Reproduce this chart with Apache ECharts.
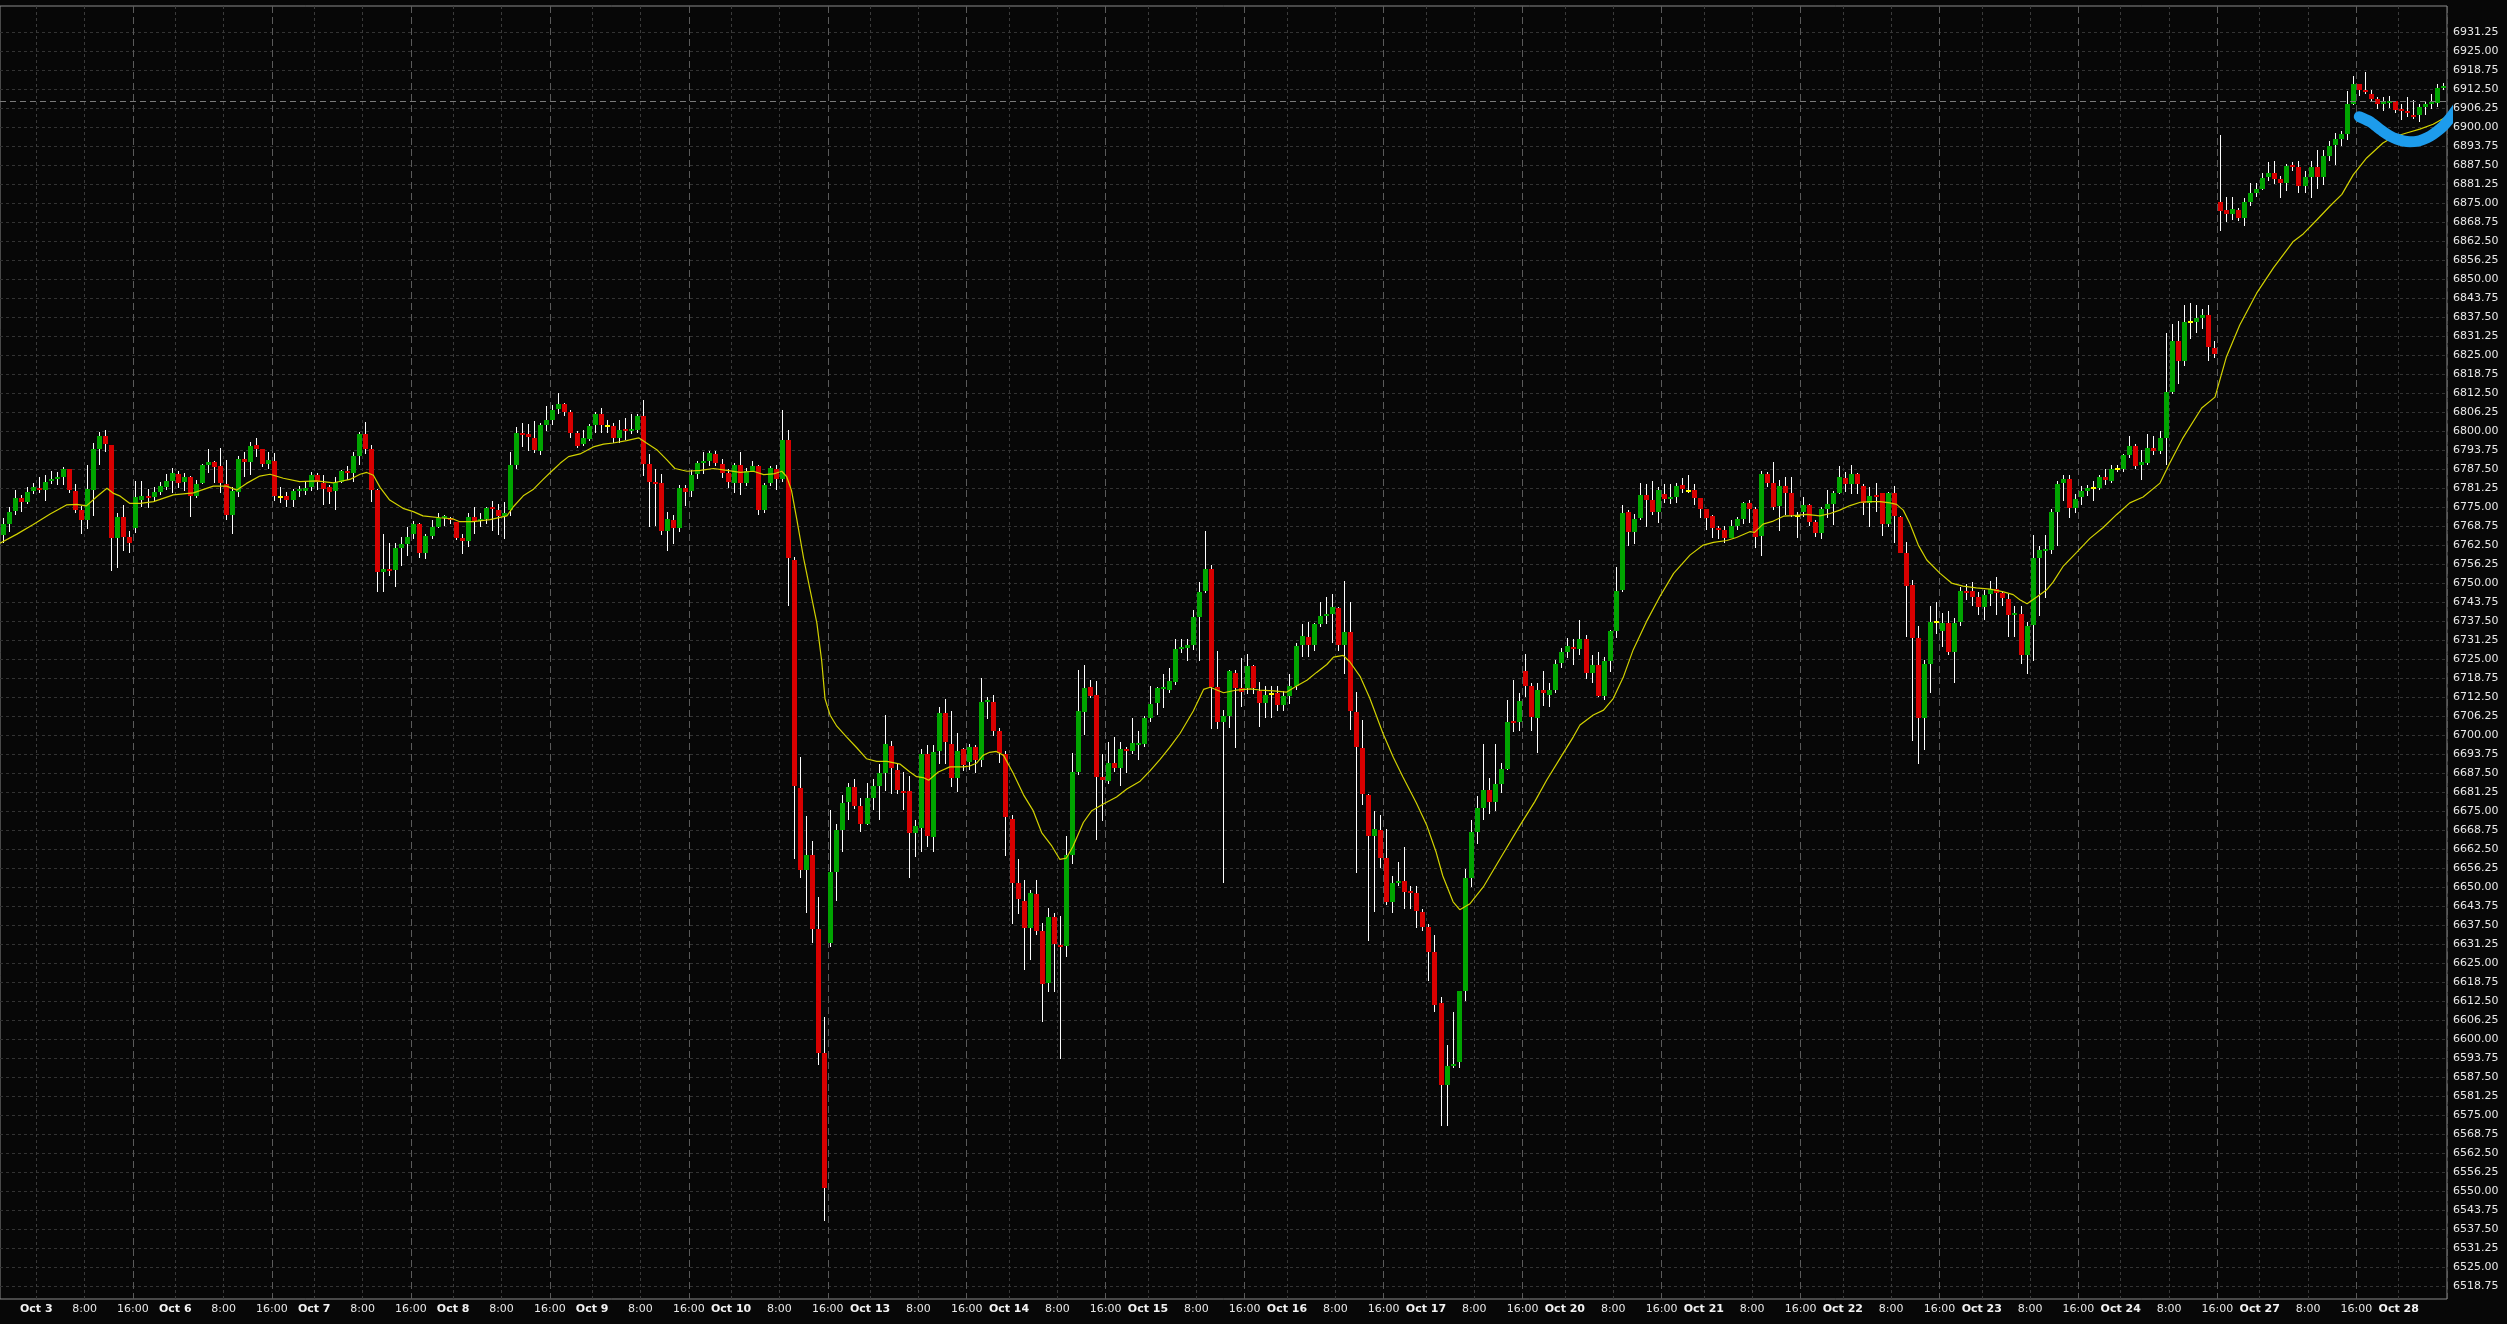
<!DOCTYPE html>
<html><head><meta charset="utf-8">
<script src="https://cdn.jsdelivr.net/npm/echarts@6/dist/echarts.min.js"></script>
<style>html,body{margin:0;padding:0;background:#070707;overflow:hidden}#c{width:2507px;height:1324px}</style>
</head><body><div id="c"></div>
<script>
// Trading sessions (hourly bars, CT; session opens 17:00 previous day, closes 16:00)
const sessionDates = ['Oct 3','Oct 6','Oct 7','Oct 8','Oct 9','Oct 10','Oct 13','Oct 14','Oct 15','Oct 16','Oct 17','Oct 20','Oct 21','Oct 22','Oct 23','Oct 24','Oct 27','Oct 28'];

// Hourly candles: [open, close, low, high]
const candles = [
[6765.8,6769.6,6763.2,6771.5],[6769.4,6773.4,6766.9,6775.0],[6773.6,6778.0,6772.5,6780.5],[6778.0,6776.8,6773.5,6779.0],[6776.7,6780.0,6776.0,6781.7],
[6780.3,6781.5,6779.2,6782.8],[6781.4,6780.7,6779.5,6785.0],[6780.6,6783.2,6777.1,6785.5],[6783.6,6784.2,6782.5,6787.0],[6784.2,6784.9,6782.2,6786.7],
[6784.9,6787.5,6782.2,6788.1],[6787.5,6780.6,6779.5,6787.7],[6780.3,6774.0,6773.0,6782.7],[6774.2,6770.7,6766.1,6775.5],[6770.7,6781.0,6767.8,6788.8],
[6780.6,6794.1,6772.1,6796.0],[6794.1,6798.4,6788.8,6799.6],[6798.4,6795.9,6793.2,6800.4],[6795.4,6764.9,6754.1,6795.5],[6764.9,6771.8,6755.1,6773.0],
[6771.8,6765.3,6760.7,6775.7],[6765.3,6763.2,6760.0,6767.1],
[6768.2,6778.4,6766.6,6783.7],[6777.2,6778.6,6774.9,6783.7],[6778.6,6778.1,6774.8,6781.0],[6778.2,6780.0,6776.8,6781.7],[6780.0,6782.0,6779.0,6783.3],
[6781.7,6783.6,6780.6,6785.9],[6783.7,6786.1,6779.5,6787.8],[6785.9,6782.8,6781.2,6787.0],[6783.2,6785.0,6780.4,6786.1],[6784.8,6778.8,6771.8,6785.3],
[6778.8,6782.6,6777.9,6783.9],[6783.0,6788.8,6782.6,6789.2],[6788.8,6789.9,6786.1,6794.1],[6789.9,6788.3,6782.8,6790.2],[6788.5,6782.8,6779.5,6794.3],
[6782.6,6772.4,6770.7,6790.5],[6772.4,6780.3,6766.1,6781.7],[6780.1,6790.8,6778.4,6791.9],[6790.8,6789.9,6785.0,6793.2],[6789.9,6795.2,6785.6,6796.3],
[6795.4,6794.0,6791.6,6797.6],[6794.0,6789.1,6788.1,6794.0],[6789.1,6790.5,6787.7,6793.2],
[6790.2,6778.8,6777.1,6792.7],[6778.4,6778.4,6776.2,6781.5],[6778.8,6777.4,6775.1,6780.0],[6777.4,6780.3,6775.1,6781.0],[6780.3,6780.9,6778.4,6781.9],
[6780.3,6781.4,6779.0,6783.3],[6781.5,6785.7,6780.3,6786.6],[6785.5,6783.4,6780.6,6786.1],[6783.0,6780.9,6775.7,6785.5],[6781.7,6780.1,6776.0,6782.3],
[6780.3,6783.4,6774.0,6785.0],[6783.4,6787.0,6782.8,6787.2],[6786.7,6786.1,6783.9,6788.5],[6786.1,6791.8,6783.4,6793.2],[6791.8,6799.0,6788.8,6799.8],
[6799.0,6794.1,6792.5,6803.1],[6794.1,6780.6,6776.8,6795.4],[6780.6,6753.7,6747.1,6781.0],[6753.7,6754.6,6747.1,6766.3],[6754.6,6754.1,6752.3,6763.1],
[6754.3,6761.4,6748.6,6763.1],[6761.6,6762.8,6755.7,6765.3],[6762.8,6765.0,6759.0,6768.3],
[6766.1,6769.6,6764.4,6770.5],[6769.6,6759.8,6758.3,6769.8],[6759.8,6765.6,6757.9,6766.3],[6765.6,6768.5,6764.4,6770.7],[6768.5,6771.3,6768.0,6772.9],
[6771.5,6772.1,6768.8,6772.4],[6771.4,6770.7,6769.3,6771.8],[6770.0,6764.9,6764.2,6770.2],[6764.7,6763.9,6759.4,6766.1],[6763.9,6771.7,6762.0,6773.0],
[6771.7,6770.5,6766.3,6774.9],[6770.4,6771.1,6768.6,6773.2],[6771.1,6774.6,6769.5,6775.1],[6774.8,6774.4,6767.2,6776.9],[6773.9,6772.0,6765.7,6776.0],
[6772.2,6773.2,6764.6,6776.6],[6773.9,6788.9,6772.2,6793.0],[6788.9,6799.3,6787.7,6801.4],[6799.3,6798.7,6794.8,6802.8],[6798.9,6798.2,6793.6,6802.3],
[6797.6,6793.9,6792.7,6803.2],[6793.5,6801.9,6792.3,6802.8],[6801.9,6803.7,6800.1,6808.2],
[6803.7,6806.9,6801.9,6808.5],[6807.3,6808.9,6805.5,6812.5],[6808.9,6806.4,6805.0,6809.1],[6806.4,6799.4,6797.8,6806.8],[6799.4,6795.0,6794.4,6800.1],
[6795.7,6797.6,6795.0,6800.5],[6797.5,6801.6,6796.6,6802.5],[6801.9,6805.5,6799.3,6806.4],[6805.5,6801.9,6799.3,6807.6],[6801.6,6801.6,6799.3,6803.7],
[6801.6,6797.8,6796.0,6802.8],[6797.8,6800.3,6796.0,6803.7],[6800.5,6800.0,6797.1,6804.3],[6800.2,6800.6,6798.9,6805.5],[6800.5,6805.0,6799.3,6805.5],
[6805.0,6789.1,6785.3,6810.3],[6789.1,6783.2,6768.6,6792.5],[6783.2,6782.5,6768.9,6787.7],[6782.9,6767.1,6765.7,6785.9],[6767.1,6771.1,6760.5,6773.4],
[6770.7,6768.0,6762.7,6772.5],[6768.0,6781.4,6766.8,6782.3],[6781.4,6780.0,6775.2,6782.3],
[6780.2,6785.5,6778.4,6787.1],[6785.9,6789.4,6784.1,6790.3],[6789.6,6790.3,6785.9,6793.0],[6790.3,6792.7,6788.6,6793.5],[6792.5,6789.4,6788.6,6793.5],
[6789.1,6786.2,6784.6,6790.7],[6786.2,6783.2,6781.4,6787.7],[6782.9,6788.7,6779.6,6789.4],[6788.7,6782.9,6779.1,6793.0],[6782.9,6786.8,6781.8,6788.0],
[6786.8,6788.6,6786.4,6790.3],[6788.6,6773.9,6772.5,6788.9],[6773.9,6782.3,6772.9,6782.8],[6782.8,6788.0,6781.8,6788.6],[6787.7,6784.1,6780.5,6788.9],
[6784.1,6797.1,6783.2,6806.8],[6797.1,6758.2,6742.5,6800.5],[6757.7,6683.3,6659.2,6758.5],[6682.4,6655.6,6653.0,6692.6],[6655.6,6660.6,6641.4,6673.5],
[6660.6,6636.0,6631.6,6665.1],[6636.0,6595.5,6591.4,6646.7],[6595.5,6550.9,6540.2,6607.1],
[6631.6,6654.9,6630.2,6675.3],[6654.9,6668.7,6645.5,6670.8],[6668.7,6677.6,6661.4,6680.1],[6677.9,6682.9,6672.1,6684.2],[6682.9,6676.5,6675.8,6685.5],
[6676.5,6670.8,6668.1,6679.4],[6670.8,6679.4,6670.3,6684.2],[6679.4,6683.3,6675.3,6685.5],[6683.3,6687.4,6672.1,6690.4],[6687.4,6697.0,6681.5,6706.5],
[6696.3,6689.0,6680.6,6698.1],[6688.6,6681.9,6680.6,6690.8],[6681.5,6681.0,6675.3,6687.8],[6681.5,6667.8,6653.0,6686.5],[6667.6,6669.9,6659.8,6672.1],
[6669.4,6693.6,6661.5,6695.3],[6693.6,6666.7,6663.3,6696.7],[6666.4,6694.4,6661.5,6696.7],[6694.9,6707.4,6690.4,6709.2],[6707.4,6697.6,6690.4,6711.9],
[6697.0,6686.0,6682.8,6707.9],[6686.0,6694.9,6681.2,6700.8],[6695.3,6690.1,6688.3,6695.8],
[6691.0,6696.2,6688.5,6697.2],[6696.2,6691.7,6687.5,6696.8],[6691.7,6710.9,6689.4,6718.7],[6710.9,6711.4,6705.4,6712.4],[6710.9,6701.4,6699.8,6713.1],
[6701.4,6694.0,6690.7,6702.4],[6693.6,6672.9,6660.1,6694.6],[6672.2,6651.4,6637.7,6673.8],[6651.4,6646.1,6641.2,6659.2],[6645.5,6636.4,6622.8,6652.3],
[6636.4,6648.1,6626.0,6649.1],[6647.7,6635.6,6634.1,6652.3],[6635.4,6618.2,6605.5,6638.0],[6618.5,6640.2,6615.5,6643.2],[6640.2,6631.2,6615.5,6641.3],
[6630.8,6630.4,6593.5,6640.6],[6630.6,6660.4,6626.9,6666.6],[6660.4,6687.8,6657.5,6694.2],[6687.8,6707.9,6686.8,6721.3],[6707.6,6715.4,6700.1,6723.0],
[6715.8,6712.8,6712.2,6718.0],[6713.1,6686.1,6665.6,6717.8],[6686.1,6685.1,6671.8,6693.9],
[6684.8,6690.7,6683.8,6697.8],[6690.7,6689.1,6687.7,6699.2],[6689.1,6695.3,6683.3,6697.8],[6695.5,6694.9,6687.5,6695.9],[6694.9,6697.5,6693.9,6705.7],
[6696.7,6697.2,6691.7,6701.4],[6697.0,6705.7,6696.2,6706.3],[6705.7,6710.2,6704.4,6716.1],[6710.5,6715.4,6706.6,6715.8],[6715.1,6715.6,6708.9,6720.0],
[6714.8,6717.8,6713.7,6721.9],[6717.4,6728.4,6716.3,6731.7],[6728.4,6729.1,6727.1,6731.7],[6728.7,6729.5,6724.2,6731.7],[6729.5,6738.9,6728.1,6741.1],
[6738.9,6747.0,6724.2,6750.2],[6747.3,6754.5,6746.7,6767.1],[6754.5,6715.8,6702.0,6755.8],[6715.8,6704.4,6702.0,6727.8],[6704.4,6706.3,6651.4,6708.3],
[6706.3,6720.9,6702.4,6721.5],[6720.4,6715.4,6695.6,6721.3],[6715.4,6714.1,6709.3,6725.2],
[6715.4,6722.6,6713.5,6726.5],[6722.6,6715.4,6713.5,6723.2],[6714.5,6710.5,6702.7,6717.4],[6710.5,6713.1,6705.7,6716.1],[6713.5,6713.5,6705.7,6716.1],
[6713.9,6710.0,6707.9,6716.1],[6710.0,6712.8,6708.0,6714.5],[6712.8,6716.1,6710.2,6720.0],[6716.1,6729.3,6714.8,6730.4],[6729.5,6732.6,6725.8,6736.5],
[6732.3,6729.7,6725.8,6737.1],[6729.7,6736.5,6727.8,6736.9],[6736.5,6739.1,6735.6,6743.7],[6739.1,6739.8,6736.6,6745.4],[6739.8,6742.1,6730.4,6746.4],
[6741.7,6729.7,6727.8,6742.1],[6729.7,6733.9,6720.0,6750.8],[6733.9,6707.9,6701.8,6743.8],[6707.6,6696.2,6654.5,6714.1],[6695.6,6680.7,6677.0,6705.0],
[6680.3,6666.9,6632.1,6680.5],[6666.9,6669.2,6641.6,6675.1],[6668.8,6659.5,6656.2,6673.8],
[6659.5,6645.2,6644.2,6669.2],[6645.2,6651.3,6641.5,6653.6],[6651.3,6651.7,6650.4,6658.2],[6651.9,6648.4,6642.6,6663.0],[6648.7,6648.0,6642.6,6650.4],
[6648.0,6642.2,6636.4,6650.4],[6641.9,6636.9,6635.4,6642.6],[6636.9,6628.5,6618.9,6637.7],[6628.5,6611.3,6608.7,6634.1],[6611.7,6584.9,6571.2,6613.9],
[6584.9,6591.1,6571.2,6597.9],[6591.1,6591.8,6590.5,6608.7],[6592.4,6615.6,6590.5,6615.9],[6615.9,6652.9,6612.6,6655.8],[6652.9,6668.0,6650.0,6672.0],
[6668.0,6676.0,6664.0,6680.0],[6676.0,6682.0,6672.0,6697.2],[6682.0,6678.0,6674.0,6686.0],[6678.0,6684.0,6675.0,6697.0],[6684.0,6688.8,6681.0,6690.7],
[6688.8,6704.2,6688.4,6711.5],[6704.5,6704.0,6701.1,6718.1],[6704.4,6711.2,6701.3,6713.7],
[6721.0,6716.2,6712.6,6726.6],[6716.1,6706.0,6701.3,6717.0],[6705.7,6714.8,6694.0,6717.0],[6714.8,6713.7,6709.5,6721.0],[6713.2,6714.8,6709.3,6717.0],
[6714.8,6723.3,6713.7,6724.7],[6723.6,6727.4,6721.9,6728.5],[6727.4,6729.3,6725.2,6731.8],[6728.9,6728.3,6723.0,6731.6],[6728.3,6731.5,6726.3,6737.8],
[6731.5,6720.5,6718.3,6732.9],[6720.3,6723.0,6717.2,6726.3],[6723.0,6712.9,6712.4,6727.2],[6712.9,6724.3,6711.5,6725.8],[6724.3,6734.2,6720.8,6734.5],
[6734.2,6747.4,6731.8,6755.2],[6747.7,6772.9,6747.1,6775.7],[6773.3,6766.9,6762.3,6774.0],[6766.9,6771.1,6762.7,6772.7],[6771.3,6779.0,6770.7,6782.8],
[6779.0,6777.3,6768.5,6782.5],[6777.3,6773.5,6772.4,6783.6],[6773.5,6780.6,6769.9,6781.7],
[6779.3,6777.7,6776.2,6782.6],[6777.7,6778.2,6775.9,6782.5],[6778.2,6781.9,6776.2,6782.8],[6782.3,6781.0,6779.5,6784.5],[6780.4,6780.4,6779.5,6785.5],
[6780.6,6778.1,6775.7,6782.5],[6777.9,6774.4,6771.3,6778.1],[6774.3,6771.5,6767.4,6774.3],[6772.1,6768.2,6764.7,6772.4],[6768.2,6767.6,6764.4,6768.8],
[6767.5,6764.9,6763.1,6768.8],[6764.9,6768.8,6764.7,6770.7],[6768.8,6771.0,6767.5,6771.8],[6771.0,6776.4,6769.4,6776.8],[6776.4,6774.3,6769.9,6777.3],
[6774.3,6765.3,6761.4,6775.1],[6765.5,6785.9,6758.9,6787.0],[6785.9,6782.8,6781.7,6786.6],[6782.8,6775.1,6774.0,6789.9],[6775.3,6781.9,6767.2,6783.9],
[6781.9,6779.7,6772.4,6785.0],[6779.7,6772.4,6771.8,6785.0],[6772.1,6772.1,6764.7,6773.5],
[6773.5,6775.7,6771.8,6778.4],[6775.7,6770.2,6768.8,6775.9],[6770.2,6766.6,6765.3,6770.7],[6766.6,6774.3,6764.4,6774.9],[6774.3,6776.0,6771.3,6780.6],
[6776.0,6779.7,6769.1,6780.4],[6779.7,6785.0,6779.3,6788.5],[6784.7,6782.5,6780.1,6786.7],[6782.5,6785.9,6779.3,6788.8],[6785.9,6782.5,6779.3,6786.1],
[6781.9,6776.2,6772.4,6782.5],[6776.2,6778.6,6768.6,6781.7],[6778.9,6778.4,6773.5,6782.8],[6779.5,6769.6,6765.5,6779.7],[6769.6,6779.7,6768.5,6780.1],
[6779.5,6772.2,6763.3,6781.9],[6771.8,6760.0,6759.8,6772.2],[6759.8,6749.1,6732.3,6763.6],[6749.3,6732.0,6698.1,6751.0],[6731.8,6705.7,6690.6,6736.0],
[6705.7,6723.4,6695.0,6724.7],[6723.4,6737.1,6713.7,6742.4],[6737.2,6737.2,6733.4,6743.9],
[6734.2,6736.7,6729.1,6740.0],[6736.7,6727.4,6726.3,6740.8],[6727.4,6736.7,6717.2,6738.4],[6737.1,6747.3,6736.0,6748.6],[6747.3,6746.8,6744.5,6749.7],
[6747.3,6745.5,6742.5,6750.3],[6745.5,6742.1,6739.5,6747.1],[6742.1,6746.2,6738.0,6747.7],[6746.4,6748.1,6742.5,6750.6],[6748.1,6746.8,6739.5,6751.9],
[6746.8,6745.1,6742.3,6747.1],[6744.7,6739.5,6732.4,6746.4],[6739.5,6739.9,6732.1,6742.3],[6739.9,6726.3,6723.4,6742.3],[6726.3,6736.0,6720.0,6737.1],
[6736.3,6758.4,6724.3,6765.9],[6758.4,6760.8,6739.0,6762.3],[6760.5,6761.1,6745.1,6765.9],[6761.0,6773.4,6759.7,6774.4],[6773.4,6782.6,6762.3,6783.5],
[6782.9,6784.2,6777.0,6785.7],[6784.2,6774.7,6771.4,6785.7],[6774.7,6777.7,6773.1,6779.2],
[6778.3,6780.3,6775.7,6781.8],[6780.2,6781.2,6778.6,6782.2],[6781.2,6781.2,6777.0,6783.5],[6781.3,6784.8,6780.5,6785.7],[6784.8,6783.8,6782.2,6787.4],
[6783.5,6787.7,6782.9,6788.7],[6787.7,6787.7,6786.5,6788.7],[6787.7,6792.0,6786.5,6792.6],[6792.0,6795.2,6791.3,6798.5],[6795.2,6788.5,6787.7,6795.9],
[6789.0,6789.8,6783.9,6793.9],[6789.6,6794.6,6788.8,6799.1],[6794.6,6793.3,6792.0,6798.5],[6793.3,6797.8,6792.6,6800.2],[6797.8,6812.8,6788.8,6832.3],
[6812.8,6829.7,6812.2,6835.2],[6829.7,6823.2,6815.4,6836.2],[6823.2,6836.0,6821.3,6841.4],[6836.0,6836.0,6830.4,6842.1],[6836.0,6837.3,6832.3,6841.4],
[6837.1,6838.2,6833.6,6840.1],[6838.2,6827.8,6823.2,6841.4],[6827.5,6825.4,6823.9,6829.5],
[6875.5,6872.4,6865.9,6897.4],[6872.7,6871.4,6868.8,6877.2],[6871.4,6873.1,6869.4,6877.2],[6872.9,6870.1,6869.0,6873.3],[6870.1,6875.3,6867.5,6876.6],
[6875.3,6878.5,6874.2,6881.8],[6878.5,6879.7,6877.2,6881.8],[6879.7,6883.3,6879.2,6885.0],[6883.5,6884.8,6882.4,6888.6],[6884.8,6883.1,6881.4,6888.9],
[6883.1,6881.8,6876.6,6884.1],[6881.8,6887.3,6878.9,6888.0],[6887.5,6887.0,6885.7,6888.6],[6887.0,6880.7,6878.5,6889.0],[6880.7,6883.5,6878.5,6885.7],
[6883.5,6887.0,6876.8,6888.9],[6887.0,6883.5,6879.8,6892.4],[6883.5,6890.5,6881.1,6892.4],[6890.5,6893.9,6888.9,6895.5],[6894.1,6896.1,6887.6,6898.0],
[6896.1,6897.8,6893.8,6898.7],[6897.8,6907.8,6895.8,6912.0],[6907.8,6914.1,6907.2,6916.9],
[6914.1,6912.1,6910.4,6914.3],[6912.1,6911.5,6911.1,6918.2],[6910.8,6909.2,6908.5,6912.4],[6909.2,6907.8,6905.9,6909.8],[6907.6,6908.1,6905.5,6909.8],
[6908.2,6908.7,6906.2,6910.2],[6908.5,6905.6,6904.8,6908.7],[6905.9,6905.2,6902.3,6907.5],[6905.2,6904.6,6903.3,6909.8],[6903.9,6903.5,6902.6,6909.1],
[6903.9,6906.5,6901.6,6907.8],[6906.8,6907.8,6903.9,6908.5],[6907.8,6908.3,6905.9,6911.1],[6908.1,6913.0,6906.8,6914.3],[6913.0,6913.7,6912.4,6914.6]
];

// Moving average: [bar position, value]
const maPoints = [
[-0.5,6763.1],[2.3,6766.1],[5.0,6769.3],[7.8,6772.7],[10.5,6775.7],[12.2,6775.9],[13.8,6775.4],[15.5,6778.4],[17.2,6781.2],[18.3,6779.5],
[19.4,6778.6],[21.0,6776.2],[22.7,6776.2],[24.9,6776.8],[28.2,6779.0],[31.5,6779.7],[34.8,6781.9],[37.0,6781.9],[38.7,6780.6],[40.3,6782.8],
[42.5,6785.2],[44.2,6785.8],[46.4,6784.5],[49.1,6783.4],[51.9,6783.6],[54.7,6783.0],[57.4,6784.1],[59.1,6785.8],[60.2,6786.4],[61.3,6785.5],
[62.4,6781.5],[64.0,6777.3],[66.2,6774.6],[67.9,6773.5],[69.5,6772.1],[72.3,6771.5],[74.5,6771.1],[75.6,6770.2],[77.8,6770.2],[80.6,6770.9],
[83.4,6772.1],[84.5,6775.2],[86.1,6778.7],[87.8,6780.9],[89.4,6784.1],[90.8,6786.8],[92.2,6789.4],[93.6,6791.6],[95.5,6792.5],[97.7,6794.8],
[99.4,6795.7],[101.0,6796.1],[103.2,6796.9],[105.2,6797.8],[106.5,6796.1],[108.2,6793.9],[109.8,6790.7],[111.2,6787.7],[113.2,6786.8],[115.4,6787.1],
[117.6,6787.7],[119.8,6787.1],[122.0,6786.4],[124.2,6786.8],[125.9,6785.7],[127.5,6785.9],[128.9,6786.8],[129.7,6785.0],[130.5,6780.5],[131.4,6770.7],
[132.5,6758.2],[133.6,6747.5],[134.7,6736.8],[135.5,6724.3],[136.05,6711.9],[136.9,6706.5],[138.0,6702.9],[139.6,6699.4],[141.3,6695.8],[142.9,6692.2],
[144.6,6691.3],[146.3,6691.3],[148.5,6690.4],[150.1,6687.8],[151.2,6686.3],[152.3,6686.0],[153.2,6685.1],[154.8,6687.8],[156.7,6689.5],[159.0,6689.5],
[160.0,6689.8],[161.1,6690.7],[162.2,6693.3],[163.3,6694.3],[164.4,6694.6],[165.6,6693.3],[167.2,6687.4],[168.9,6680.3],[170.5,6675.1],[171.9,6667.9],
[173.6,6663.4],[174.9,6659.1],[176.0,6659.5],[177.1,6663.4],[178.8,6671.2],[180.2,6675.1],[182.1,6677.3],[184.3,6679.6],[186.0,6682.2],[188.2,6684.8],
[189.8,6688.1],[191.5,6692.0],[193.1,6695.9],[194.8,6700.5],[197.0,6707.9],[198.7,6715.0],[199.8,6715.7],[202.0,6713.9],[204.2,6714.8],[206.4,6715.2],
[208.0,6714.8],[210.3,6714.5],[212.4,6714.1],[214.1,6716.1],[215.8,6718.0],[217.4,6720.6],[219.1,6723.2],[220.2,6725.6],[221.8,6726.2],[222.9,6724.1],
[224.6,6719.3],[226.2,6712.2],[228.4,6700.5],[230.1,6692.7],[231.7,6686.2],[233.9,6677.7],[235.6,6670.5],[237.2,6661.4],[238.3,6653.6],[240.0,6645.1],
[241.1,6642.5],[242.8,6644.5],[245.0,6650.0],[248.0,6660.0],[251.0,6670.0],[253.5,6678.0],[255.5,6685.2],[257.7,6692.3],[259.9,6699.4],[261.0,6703.3],
[263.2,6706.6],[264.9,6708.2],[266.5,6712.0],[268.2,6719.2],[269.8,6728.0],[272.0,6737.3],[274.2,6745.5],[276.5,6753.2],[279.2,6759.2],[281.4,6762.5],
[283.1,6763.4],[285.3,6764.0],[286.9,6765.0],[289.1,6766.9],[289.9,6766.7],[291.3,6769.4],[293.0,6770.4],[294.7,6772.0],[296.3,6772.2],[298.5,6772.6],
[300.7,6772.1],[302.4,6772.9],[304.0,6774.0],[305.7,6775.5],[307.4,6776.6],[309.0,6776.8],[310.7,6776.8],[312.3,6776.4],[313.4,6775.9],[314.5,6774.0],
[315.6,6769.6],[317.0,6762.5],[318.4,6757.6],[320.6,6753.2],[322.5,6750.0],[324.4,6749.0],[326.6,6748.4],[328.9,6748.0],[331.1,6747.1],[332.7,6746.2],
[333.8,6744.5],[335.0,6743.2],[336.6,6745.4],[338.2,6747.7],[339.3,6750.3],[341.0,6755.6],[343.2,6760.1],[345.4,6764.7],[347.6,6768.3],[349.8,6772.5],
[352.0,6776.4],[354.2,6778.3],[357.0,6782.9],[358.6,6789.4],[360.8,6797.8],[363.9,6807.6],[366.1,6811.2],[368.0,6824.5],[370.2,6834.9],[373.0,6845.4],
[375.8,6853.8],[379.0,6862.3],[380.7,6864.9],[382.9,6869.4],[385.1,6874.0],[387.1,6877.9],[389.0,6884.4],[391.2,6889.9],[393.9,6894.8],[395.6,6896.8],
[397.8,6898.1],[400.0,6899.4],[402.2,6901.0],[403.9,6902.9],[404.5,6903.5]
];

// Hand-drawn blue annotation: [bar position, price]
const arcPoints = [
[389.99,6903.48],[390.93,6902.61],[391.76,6901.84],[392.86,6900.19],[393.96,6898.55],[395.07,6897.12],[396.17,6896.13],[397.27,6895.48],
[398.38,6895.26],[399.48,6895.37],[400.58,6896.03],[401.69,6897.01],[402.79,6898.55],[403.89,6900.41],[404.99,6902.94],[405.93,6905.46],[406.81,6908.42]
];

// Dashed horizontal price line
const priceLine = 6908.6;

// Price-axis tick labels
const yTicks = [6518.75,6525,6531.25,6537.5,6543.75,6550,6556.25,6562.5,6568.75,6575,6581.25,6587.5,6593.75,6600,6606.25,6612.5,6618.75,6625,6631.25,6637.5,6643.75,6650,6656.25,6662.5,6668.75,6675,6681.25,6687.5,6693.75,6700,6706.25,6712.5,6718.75,6725,6731.25,6737.5,6743.75,6750,6756.25,6762.5,6768.75,6775,6781.25,6787.5,6793.75,6800,6806.25,6812.5,6818.75,6825,6831.25,6837.5,6843.75,6850,6856.25,6862.5,6868.75,6875,6881.25,6887.5,6893.75,6900,6906.25,6912.5,6918.75,6925,6931.25];
const yMin = 6514.4, yMax = 6939.9;

// Build hourly categories and time labels
const categories = [], labelText = [], kind = [];
sessionDates.forEach((d, s) => {
  const jStart = s === 0 ? 1 : 0;
  const jEnd = s === sessionDates.length - 1 ? 14 : 22;
  for (let j = jStart; j <= jEnd; j++) {
    const hour = j < 7 ? 17 + j : j - 7;
    categories.push(d + ' ' + hour + ':00');
    if (j === 7) { labelText.push('{d|' + d + '}'); kind.push('day'); }
    else if (j === 15) { labelText.push('{t|8:00}'); kind.push('h8'); }
    else if (j === 0) { labelText.push('{t|16:00}'); kind.push('h16'); }
    else { labelText.push(''); kind.push(''); }
  }
});

const FONT = 'DejaVu Sans';
const chart = echarts.init(document.getElementById('c'), null, { renderer: 'canvas' });

function renderCandle(params, api) {
  const i = api.value(0), o = api.value(1), c = api.value(2), l = api.value(3), h = api.value(4);
  const pO = api.coord([i, o]), pC = api.coord([i, c]);
  const yH = api.coord([i, h])[1], yL = api.coord([i, l])[1];
  const x = Math.round(pO[0] - 0.5);
  let top = Math.round(Math.min(pO[1], pC[1])), bot = Math.round(Math.max(pO[1], pC[1]));
  if (bot - top < 2) { const m = Math.round((pO[1] + pC[1]) / 2); top = m - 1; bot = m + 1; }
  const color = c > o ? '#00a400' : (c < o ? '#d80000' : '#ffff00');
  return {
    type: 'group',
    children: [
      { type: 'line', shape: { x1: x + 0.5, y1: Math.round(yH), x2: x + 0.5, y2: Math.round(yL) }, style: { stroke: '#ffffff', lineWidth: 1 } },
      { type: 'rect', shape: { x: x - 2, y: top, width: 5, height: bot - top }, style: { fill: color } }
    ]
  };
}

chart.setOption({
  animation: false,
  backgroundColor: '#070707',
  grid: { left: 0, right: 60, top: 6, bottom: 25, show: true, borderColor: '#8c8c8c', borderWidth: 1, backgroundColor: 'transparent', outerBoundsMode: 'none' },
  xAxis: [
    {
      type: 'category', data: categories, boundaryGap: true,
      axisLine: { show: false }, axisTick: { show: false },
      axisLabel: {
        interval: (idx) => labelText[idx] !== '',
        formatter: (v, idx) => labelText[idx],
        margin: 5,
        rich: {
          d: { fontFamily: FONT, fontSize: 11, fontWeight: 'bold', color: '#f2f2f2', padding: [0, 6, 0, 0] },
          t: { fontFamily: FONT, fontSize: 11, color: '#e8e8e8', padding: [0, 6, 0, 0] }
        }
      },
      splitLine: { show: true, interval: (idx) => kind[idx] === 'day' || kind[idx] === 'h8', lineStyle: { color: '#3a3a3a', width: 1, type: [3, 3] } }
    },
    {
      type: 'category', data: categories, boundaryGap: true, position: 'bottom',
      axisLine: { show: false }, axisTick: { show: false }, axisLabel: { show: false },
      splitLine: { show: true, interval: (idx) => kind[idx] === 'h16', lineStyle: { color: '#5a5a5a', width: 1, type: [7, 4] } }
    },
    { type: 'value', min: -0.5, max: candles.length - 0.5, show: false, splitLine: { show: false } }
  ],
  yAxis: [{
    type: 'value', position: 'right', min: yMin, max: yMax, scale: true,
    axisLine: { show: false },
    axisTick: { show: false, customValues: yTicks },
    axisLabel: { customValues: yTicks, formatter: (v) => Number(v).toFixed(2), fontFamily: FONT, fontSize: 11, color: '#e8e8e8', margin: 6, align: 'left' },
    splitLine: { show: true, lineStyle: { color: '#333333', width: 1, type: [3, 3] } }
  }],
  series: [
    {
      type: 'custom', name: 'Price', xAxisIndex: 0, yAxisIndex: 0,
      renderItem: renderCandle,
      encode: { x: 0, y: [1, 2, 3, 4] },
      data: candles.map((c, i) => [i, c[0], c[1], c[2], c[3]]),
      z: 3
    },
    {
      type: 'line', name: 'MA', xAxisIndex: 2, yAxisIndex: 0,
      data: maPoints, symbol: 'none', smooth: false,
      lineStyle: { color: '#d2d200', width: 1.2 },
      z: 4,
      markLine: {
        silent: true, symbol: ['none', 'none'], label: { show: false },
        lineStyle: { color: '#7a7a7a', width: 1, type: [6, 4] },
        data: [{ yAxis: priceLine }]
      }
    },
    {
      type: 'line', name: 'Annotation', xAxisIndex: 2, yAxisIndex: 0,
      data: arcPoints, symbol: 'none', smooth: 0.2, clip: false,
      lineStyle: { color: '#1d9cec', width: 11, cap: 'round', join: 'round' },
      z: 6
    }
  ]
});
</script>
</body></html>
